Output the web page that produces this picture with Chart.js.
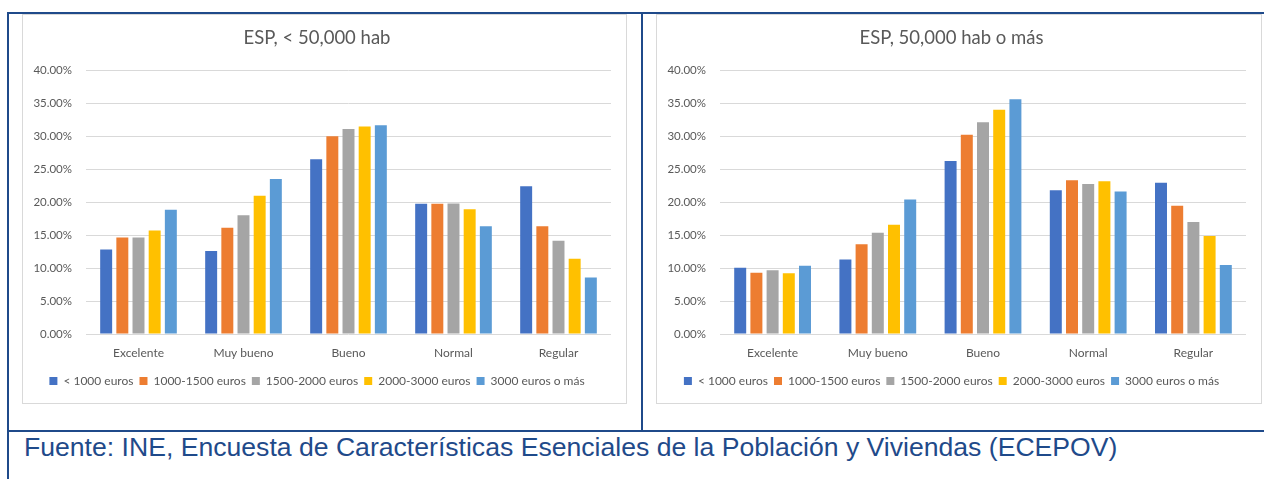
<!DOCTYPE html>
<html>
<head>
<meta charset="utf-8">
<script src="https://cdn.jsdelivr.net/npm/chart.js@4.4.1/dist/chart.umd.min.js"></script>
<style>
    body { margin: 0; width: 1264px; height: 479px; background: #fff; position: relative; overflow: hidden; }
    .line { position: absolute; background: #1F4A8A; }
    .chart-box { position: absolute; top: 14px; height: 390px; border: 1px solid #d9d9d9; box-sizing: border-box; }
    .chart-box canvas { display: block; }
    #fuente { position: absolute; left: 24px; top: 434px; font-family: "Liberation Sans", Arial, sans-serif; font-size: 26.6px; line-height: 26.6px; color: #1F4A8A; white-space: nowrap; }
</style>
</head>
<body>
<div class="line" style="left:7px; top:12px; width:1257px; height:2px;"></div>
<div class="line" style="left:7px; top:12px; width:2px; height:467px;"></div>
<div class="line" style="left:641px; top:12px; width:2px; height:419px;"></div>
<div class="line" style="left:7px; top:430px; width:1257px; height:2px;"></div>

<div class="chart-box" style="left:22px; width:605px;"><canvas id="chartSmall" width="603" height="388"></canvas></div>
<div class="chart-box" style="left:656px; width:606px;"><canvas id="chartBig" width="604" height="388"></canvas></div>

<div id="fuente">Fuente: INE, Encuesta de Características Esenciales de la Población y Viviendas (ECEPOV)</div>

<script>
// categories and series names
const categories = ['Excelente', 'Muy bueno', 'Bueno', 'Normal', 'Regular'];
const seriesNames = ['< 1000 euros', '1000-1500 euros', '1500-2000 euros', '2000-3000 euros', '3000 euros o más'];
const seriesColors = ['#4472C4', '#ED7D31', '#A5A5A5', '#FFC000', '#5B9BD5'];
const yTicks = [0, 5, 10, 15, 20, 25, 30, 35, 40];

// ESP, < 50,000 hab (percent)
const small_lt1000 = [12.8, 12.6, 26.5, 19.75, 22.4];
const small_1000_1500 = [14.65, 16.1, 30.0, 19.75, 16.35];
const small_1500_2000 = [14.65, 18.0, 31.1, 19.8, 14.15];
const small_2000_3000 = [15.7, 20.95, 31.45, 18.9, 11.4];
const small_3000_mas = [18.85, 23.5, 31.65, 16.35, 8.55];

// ESP, 50,000 hab o más (percent)
const big_lt1000 = [10.05, 11.3, 26.25, 21.8, 22.95];
const big_1000_1500 = [9.3, 13.6, 30.2, 23.3, 19.45];
const big_1500_2000 = [9.65, 15.35, 32.1, 22.75, 17.0];
const big_2000_3000 = [9.2, 16.55, 34.0, 23.15, 14.85];
const big_3000_mas = [10.35, 20.4, 35.6, 21.6, 10.45];

const FONT = 'Lato, "Open Sans", sans-serif';
const GREY_TEXT = '#595959';

function buildDatasets(seriesData) {
    return seriesData.map((values, i) => {
        return {
            label: seriesNames[i],
            data: values,
            backgroundColor: seriesColors[i],
            borderWidth: 0,
            barPercentage: 0.74,
            categoryPercentage: 0.77
        };
    });
}

function renderChart(canvasId, title, seriesData) {
    const ctx = document.getElementById(canvasId).getContext('2d');
    return new Chart(ctx, {
        type: 'bar',
        data: {
            labels: categories,
            datasets: buildDatasets(seriesData)
        },
        options: {
            responsive: false,
            animation: false,
            layout: { padding: { left: 0, right: 15, top: 0, bottom: 6 } },
            plugins: {
                title: {
                    display: true,
                    text: title,
                    color: GREY_TEXT,
                    font: { family: FONT, size: 18.5, weight: 'normal' },
                    padding: { top: 12, bottom: 21 }
                },
                legend: {
                    position: 'bottom',
                    labels: {
                        color: GREY_TEXT,
                        font: { family: FONT, size: 12 },
                        boxWidth: 8,
                        boxHeight: 8,
                        padding: 6
                    }
                },
                tooltip: { enabled: false }
            },
            scales: {
                x: {
                    grid: { display: false },
                    border: { display: false },
                    ticks: {
                        color: GREY_TEXT,
                        font: { family: FONT, size: 12 },
                        padding: 4,
                        maxRotation: 0
                    },
                    afterFit: scale => { scale.height = 35; }
                },
                y: {
                    min: yTicks[0],
                    max: yTicks[yTicks.length - 1],
                    grid: { color: '#d9d9d9', lineWidth: 1, drawTicks: false },
                    border: { display: false },
                    ticks: {
                        stepSize: yTicks[1] - yTicks[0],
                        color: GREY_TEXT,
                        font: { family: FONT, size: 11.5 },
                        padding: 14,
                        callback: v => v.toFixed(2) + '%'
                    },
                    afterFit: scale => { scale.width = 63; }
                }
            }
        }
    });
}

renderChart('chartSmall', 'ESP, < 50,000 hab',
    [small_lt1000, small_1000_1500, small_1500_2000, small_2000_3000, small_3000_mas]);
renderChart('chartBig', 'ESP, 50,000 hab o más',
    [big_lt1000, big_1000_1500, big_1500_2000, big_2000_3000, big_3000_mas]);
</script>
</body>
</html>
